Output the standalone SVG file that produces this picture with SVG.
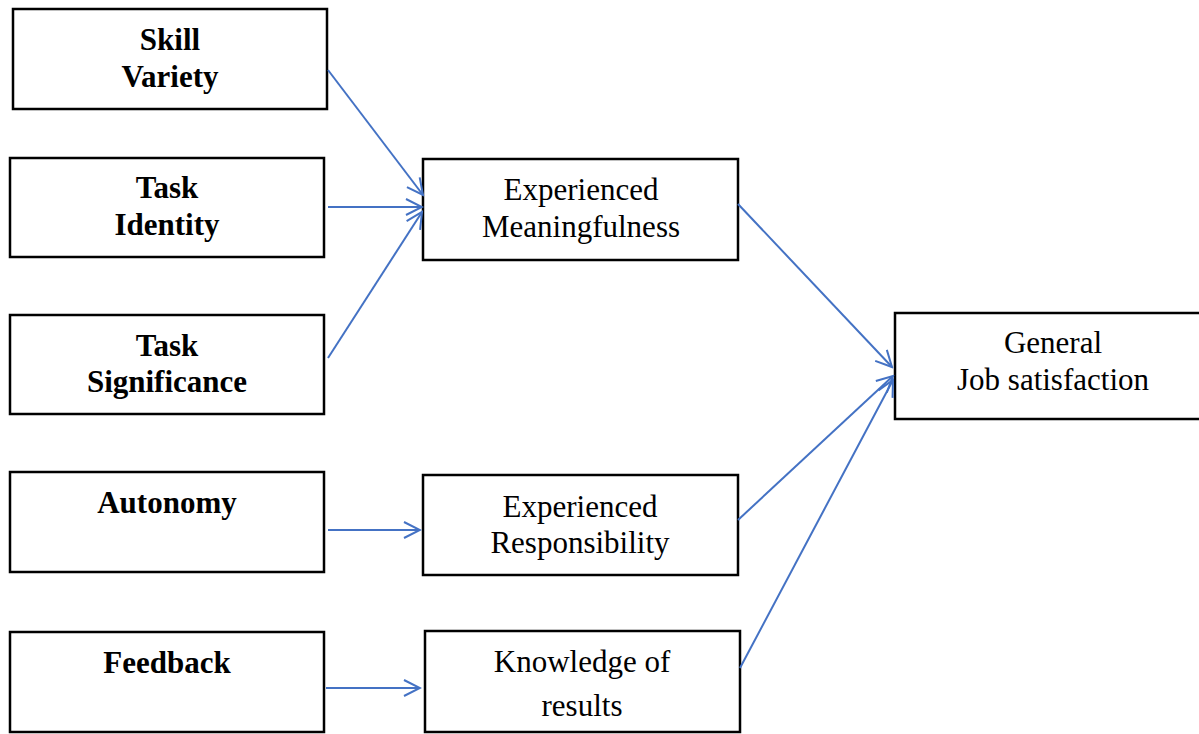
<svg xmlns="http://www.w3.org/2000/svg" width="1199" height="734" viewBox="0 0 1199 734">
<style>
.box{fill:#fff;stroke:#000;stroke-width:2.5}
.b{font-family:"Liberation Serif",serif;font-weight:bold;font-size:31px;text-anchor:middle;fill:#000}
.r{font-family:"Liberation Serif",serif;font-size:31px;text-anchor:middle;fill:#000}
.c{stroke:#4472C4;stroke-width:2;fill:none}
</style>
<defs>
<marker id="ah" viewBox="0 0 20 20" refX="18" refY="10" markerWidth="20" markerHeight="20" markerUnits="userSpaceOnUse" orient="auto">
<path d="M2,2 L18,10 L2,18" fill="none" stroke="#4472C4" stroke-width="2"/>
</marker>
</defs>
<rect width="1199" height="734" fill="#fff"/>
<g id="skill-variety"><rect class="box" x="13" y="9" width="314" height="100"/><text class="b" x="170" y="50">Skill</text><text class="b" x="170" y="87">Variety</text></g>
<g id="task-identity"><rect class="box" x="10" y="158" width="314" height="99"/><text class="b" x="167" y="198">Task</text><text class="b" x="167" y="235">Identity</text></g>
<g id="task-significance"><rect class="box" x="10" y="315" width="314" height="99"/><text class="b" x="167" y="356">Task</text><text class="b" x="167" y="392">Significance</text></g>
<g id="autonomy"><rect class="box" x="10" y="472" width="314" height="100"/><text class="b" x="167" y="513">Autonomy</text></g>
<g id="feedback"><rect class="box" x="10" y="632" width="314" height="100"/><text class="b" x="167" y="673">Feedback</text></g>
<g id="experienced-meaningfulness"><rect class="box" x="423" y="159" width="315" height="101"/><text class="r" x="581" y="200">Experienced</text><text class="r" x="581" y="237">Meaningfulness</text></g>
<g id="experienced-responsibility"><rect class="box" x="423" y="475" width="315" height="100"/><text class="r" x="580" y="517">Experienced</text><text class="r" x="580" y="553">Responsibility</text></g>
<g id="knowledge-of-results"><rect class="box" x="425" y="631" width="315" height="101"/><text class="r" x="582" y="672">Knowledge of</text><text class="r" x="582" y="716">results</text></g>
<g id="general-job-satisfaction"><rect class="box" x="895" y="313" width="310" height="106"/><text class="r" x="1053" y="353">General</text><text class="r" x="1053" y="390">Job satisfaction</text></g>
<g id="connectors">
<line class="c" x1="328" y1="70" x2="423" y2="195" marker-end="url(#ah)"/>
<line class="c" x1="328" y1="207" x2="422" y2="207" marker-end="url(#ah)"/>
<line class="c" x1="328" y1="358" x2="422" y2="212" marker-end="url(#ah)"/>
<line class="c" x1="328" y1="530" x2="420" y2="530" marker-end="url(#ah)"/>
<line class="c" x1="326" y1="688" x2="420" y2="688" marker-end="url(#ah)"/>
<line class="c" x1="738" y1="204" x2="892" y2="367" marker-end="url(#ah)"/>
<line class="c" x1="738" y1="520" x2="893" y2="376" marker-end="url(#ah)"/>
<line class="c" x1="740" y1="668" x2="893" y2="380" marker-end="url(#ah)"/>
</g>
</svg>
